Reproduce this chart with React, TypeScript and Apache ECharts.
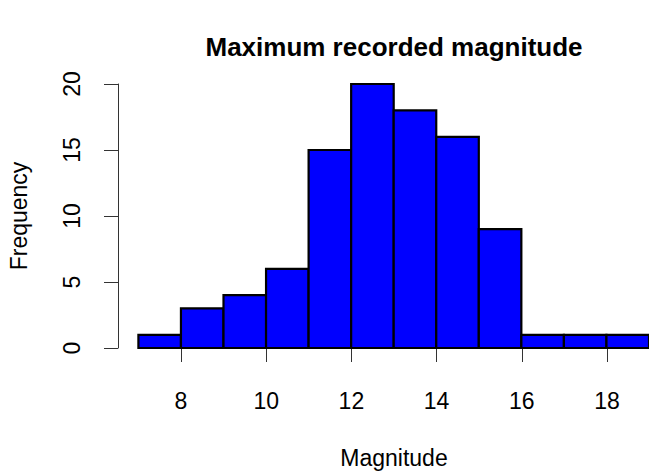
import React, { useEffect, useRef } from "react";
import * as echarts from "echarts";

const binStarts = [7, 8, 9, 10, 11, 12, 13, 14, 15, 16, 17, 18];
const binEnds = [8, 9, 10, 11, 12, 13, 14, 15, 16, 17, 18, 19];
const counts = [1, 3, 4, 6, 15, 20, 18, 16, 9, 1, 1, 1];

const titleText = "Maximum recorded magnitude";
const xTitle = "Magnitude";
const yTitle = "Frequency";

const FONT = "'Liberation Sans', Arial, Helvetica, sans-serif";

export default function App() {
  const ref = useRef<HTMLDivElement>(null);
  useEffect(() => {
    if (!ref.current) return;
    const chart = echarts.init(ref.current, undefined, { renderer: "svg" });
    const data = binStarts.map((s, i) => [s, binEnds[i], counts[i]]);
    const option = {
      animation: false,
      backgroundColor: "#ffffff",
      grid: [
        { left: 138.4, width: 511.2, top: 84, height: 264 },
        { left: 181, width: 426, top: 84, height: 264 },
      ],
      xAxis: [
        { type: "value", gridIndex: 0, min: 7, max: 19, show: false },
        {
          type: "value",
          gridIndex: 1,
          min: 8,
          max: 18,
          interval: 2,
          position: "bottom",
          offset: 11,
          axisLine: { show: true, lineStyle: { color: "#333", width: 1 } },
          axisTick: { show: true, length: 14, lineStyle: { color: "#333", width: 1 } },
          axisLabel: { show: true, margin: 30, color: "#000", fontSize: 23, fontFamily: FONT },
          splitLine: { show: false },
        },
      ],
      yAxis: [
        { type: "value", gridIndex: 0, min: 0, max: 20, show: false },
        {
          type: "value",
          gridIndex: 1,
          min: 0,
          max: 20,
          interval: 5,
          position: "left",
          offset: 63,
          axisLine: { show: true, lineStyle: { color: "#333", width: 1 } },
          axisTick: { show: true, length: 14, lineStyle: { color: "#333", width: 1 } },
          axisLabel: { show: true, margin: 35, rotate: 90, color: "#000", fontSize: 23, fontFamily: FONT },
          splitLine: { show: false },
        },
      ],
      series: [
        {
          type: "custom",
          xAxisIndex: 0,
          yAxisIndex: 0,
          data,
          renderItem: (params: any, api: any) => {
            const p0 = api.coord([api.value(0), api.value(2)]);
            const p1 = api.coord([api.value(1), 0]);
            return {
              type: "rect",
              shape: { x: p0[0], y: p0[1], width: p1[0] - p0[0], height: p1[1] - p0[1] },
              style: { fill: "#0000FF", stroke: "#000", lineWidth: 2.2 },
            };
          },
        },
      ],
      graphic: [
        {
          type: "text",
          x: 394,
          y: 47,
          style: {
            text: titleText,
            fontSize: 26,
            fontWeight: "bold",
            fontFamily: FONT,
            fill: "#000",
            textAlign: "center",
            textVerticalAlign: "middle",
          },
        },
        {
          type: "text",
          x: 394,
          y: 458,
          style: {
            text: xTitle,
            fontSize: 23,
            fontFamily: FONT,
            fill: "#000",
            textAlign: "center",
            textVerticalAlign: "middle",
          },
        },
        {
          type: "text",
          x: 19,
          y: 216,
          rotation: Math.PI / 2,
          style: {
            text: yTitle,
            fontSize: 23,
            fontFamily: FONT,
            fill: "#000",
            textAlign: "center",
            textVerticalAlign: "middle",
          },
        },
      ],
    };
    chart.setOption(option as any);
    return () => chart.dispose();
  }, []);
  return (
    <div
      ref={ref}
      style={{ position: "fixed", left: 0, top: 0, width: 649, height: 472, background: "#fff" }}
    />
  );
}
